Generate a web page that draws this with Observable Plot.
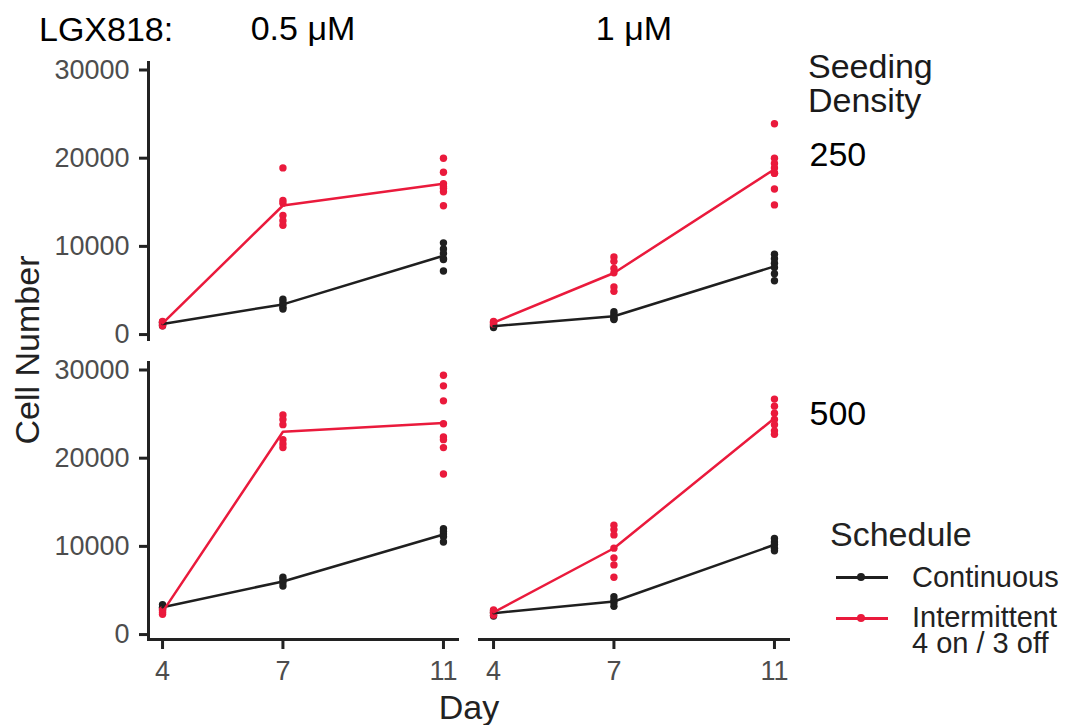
<!DOCTYPE html>
<html>
<head>
<meta charset="utf-8">
<script src="https://cdn.jsdelivr.net/npm/d3@7"></script>
<script src="https://cdn.jsdelivr.net/npm/@observablehq/plot@0.6"></script>
<style>
  html, body { margin: 0; padding: 0; background: white; }
  #wrap { position: relative; width: 1065px; height: 725px; font-family: 'Liberation Sans', Arial, sans-serif; }
  #wrap svg { position: absolute; left: 0; top: 0; }
  .lbl { position: absolute; line-height: 1; white-space: nowrap; }
  .key { position: absolute; width: 52px; height: 3px; }
  .keydot { position: absolute; width: 8px; height: 8px; border-radius: 50%; }
</style>
</head>
<body>
<div id="wrap"></div>
<script>
// ---- data ----
const days = [4, 7, 11];
const concentrations = ["0.5 μM", "1 μM"];
const densities = ["250", "500"];
const schedules = ["Continuous", "Intermittent"];
const scheduleLabels = ["Continuous", "Intermittent", "4 on / 3 off"];
const yTicks = [0, 10000, 20000, 30000];

// replicate cell counts per day [day 4, day 7, day 11]
const cont_05_250 = [[1100, 1300, 1000, 1400], [4000, 3700, 3400, 3100, 2900], [10400, 9700, 9200, 8600, 8500, 7200]];
const int_05_250  = [[1500, 1200, 1000, 1400], [18900, 15200, 14900, 13500, 12900, 12400], [20000, 18400, 17100, 16800, 16600, 16200, 14600]];
const cont_1_250  = [[800, 1000, 1100, 900], [2600, 2300, 2000, 1800, 1700], [9100, 8600, 8100, 7600, 6900, 6100]];
const int_1_250   = [[1300, 1500, 1200, 1400], [8800, 8300, 7500, 7000, 5400, 4900], [23900, 20000, 19400, 18900, 18300, 18300, 16500, 14700]];
const cont_05_500 = [[3400, 3100, 2900, 3000], [6500, 6200, 5900, 5500], [12000, 11700, 11400, 11100, 10500]];
const int_05_500  = [[2800, 2500, 2300, 2700], [24900, 24400, 23800, 22100, 21600, 21200], [29400, 28200, 26500, 23900, 22400, 22100, 21200, 18200]];
const cont_1_500  = [[2700, 2400, 2100, 2500], [4300, 3900, 3600, 3200], [10900, 10500, 10200, 9800, 9500]];
const int_1_500   = [[2800, 2500, 2200, 2600], [12400, 11900, 11300, 9800, 8700, 7900, 6500], [26700, 25900, 25100, 24400, 23800, 23100, 22700]];

const colors = ["#1f1f1f", "#EA1A3C"];

const panels = [
  {conc: concentrations[0], dens: densities[0], schedule: schedules[0], values: cont_05_250},
  {conc: concentrations[0], dens: densities[0], schedule: schedules[1], values: int_05_250},
  {conc: concentrations[1], dens: densities[0], schedule: schedules[0], values: cont_1_250},
  {conc: concentrations[1], dens: densities[0], schedule: schedules[1], values: int_1_250},
  {conc: concentrations[0], dens: densities[1], schedule: schedules[0], values: cont_05_500},
  {conc: concentrations[0], dens: densities[1], schedule: schedules[1], values: int_05_500},
  {conc: concentrations[1], dens: densities[1], schedule: schedules[0], values: cont_1_500},
  {conc: concentrations[1], dens: densities[1], schedule: schedules[1], values: int_1_500}
];
const rows = panels.flatMap(p => p.values.flatMap((vals, i) =>
  vals.map(v => ({day: days[i], value: v, conc: p.conc, dens: p.dens, schedule: p.schedule}))));

const densLabels = densities.map(d => ({conc: concentrations[1], dens: d}));

const chart = Plot.plot({
  width: 1065,
  height: 725,
  marginLeft: 148,
  marginRight: 277,
  marginTop: 62,
  marginBottom: 86,
  style: {fontFamily: "'Liberation Sans', Arial, sans-serif", fontSize: "26px", color: "#222", background: "transparent", overflow: "visible"},
  x: {domain: [3.65, 11.35]},
  y: {domain: [-560, 30850]},
  fx: {domain: concentrations, paddingInner: 0.0665, paddingOuter: 0},
  fy: {domain: densities, paddingInner: 0.0783, paddingOuter: 0, axis: null},
  color: {domain: schedules, range: colors},
  marks: [
    Plot.frame({anchor: "left", facetAnchor: "left", stroke: "#222", strokeWidth: 3}),
    Plot.frame({anchor: "bottom", facetAnchor: "bottom", stroke: "#222", strokeWidth: 3}),
    Plot.axisY({ticks: yTicks, tickSize: 9, tickPadding: 10, tickFormat: d => String(d), label: null,
      stroke: "#222", strokeWidth: 3, fill: "#4d4d4d", fontSize: 27}),
    Plot.axisX({ticks: days, tickSize: 10, tickPadding: 11, tickFormat: d => String(d), label: null,
      stroke: "#222", strokeWidth: 3, fill: "#4d4d4d", fontSize: 27}),
    Plot.axisFx({anchor: "top", tickSize: 0, tickPadding: 23, label: null, fill: "black", fontSize: 34}),
    Plot.dot(rows, {x: "day", y: "value", fill: "schedule", r: 3.7, fx: "conc", fy: "dens"}),
    Plot.lineY(rows, Plot.groupX({y: "mean"}, {x: "day", y: "value", stroke: "schedule", strokeWidth: 2.5, fx: "conc", fy: "dens"})),
    Plot.text(densLabels.slice(0, 1), {fx: "conc", fy: "dens", text: "dens", frameAnchor: "top-right", textAnchor: "start",
      dx: 21, dy: 79, fontSize: 34, fill: "black"}),
    Plot.text(densLabels.slice(1, 2), {fx: "conc", fy: "dens", text: "dens", frameAnchor: "top-right", textAnchor: "start",
      dx: 21, dy: 38, fontSize: 34, fill: "black"})
  ]
});

const wrap = document.getElementById("wrap");
wrap.appendChild(chart);

function addLabel(text, css) {
  const d = document.createElement("div");
  d.className = "lbl";
  d.textContent = text;
  Object.assign(d.style, css);
  wrap.appendChild(d);
  return d;
}
// facet header and titles
addLabel("LGX818:", {left: "39px", top: "29px", transform: "translateY(-50%)", fontSize: "34px", color: "#000"});
const sd = addLabel("", {left: "808px", top: "49px", fontSize: "34px", color: "#1a1a1a", lineHeight: "34px"});
sd.innerHTML = "Seeding<br>Density";
addLabel("Cell Number", {left: "27px", top: "350px", transform: "translate(-50%,-50%) rotate(-90deg)", fontSize: "34px", color: "#222"});
addLabel("Day", {left: "469px", top: "707px", transform: "translate(-50%,-50%)", fontSize: "34px", color: "#222"});

// legend
addLabel("Schedule", {left: "830px", top: "534px", transform: "translateY(-50%)", fontSize: "34px", color: "#222"});
const keyYs = [577, 618];
schedules.forEach((s, i) => {
  const k = document.createElement("div");
  k.className = "key";
  Object.assign(k.style, {left: "836px", top: (keyYs[i] - 1.5) + "px", background: colors[i]});
  wrap.appendChild(k);
  const dd = document.createElement("div");
  dd.className = "keydot";
  Object.assign(dd.style, {left: "857px", top: (keyYs[i] - 4) + "px", background: colors[i]});
  wrap.appendChild(dd);
});
addLabel(scheduleLabels[0], {left: "912px", top: "577px", transform: "translateY(-50%)", fontSize: "29px", color: "#222"});
const il = addLabel("", {left: "912px", top: "604px", fontSize: "29px", color: "#222", lineHeight: "26px"});
il.innerHTML = scheduleLabels[1] + "<br>" + scheduleLabels[2];
</script>
</body>
</html>
